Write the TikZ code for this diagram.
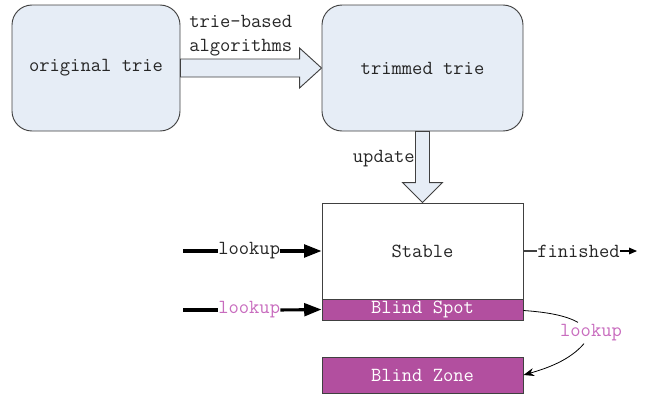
\documentclass[tikz,border=0pt]{standalone}
\usepackage{fontspec}
\usetikzlibrary{arrows.meta,calc}
\definecolor{boxblue}{HTML}{E6EDF6}
\definecolor{purp}{HTML}{B24F9F}
\definecolor{pinktxt}{HTML}{C86CBE}
\definecolor{edge}{HTML}{404040}
\tikzset{
  txt/.style={font=\ttfamily\fontsize{15pt}{17pt}\selectfont, inner sep=0pt, text=black!85},
  roundbox/.style={draw=edge, fill=boxblue, rounded corners=15pt, line width=0.7pt,
    minimum height=94.5pt, txt},
  plainbox/.style={draw=edge, fill=white, line width=0.7pt, minimum width=150.75pt, txt},
  purpbox/.style={draw=edge, fill=purp, line width=0.7pt, minimum width=150.75pt, txt, text=white},
  blockarrow/.style={draw=edge, fill=boxblue, line width=0.7pt, line join=miter},
  thickln/.style={line width=2.3pt, black},
  thickarr/.style={line width=2.3pt, black, -{Triangle[length=13pt,width=9.5pt]}},
}
\begin{document}
\begin{tikzpicture}[x=0.75pt,y=-0.75pt]
\useasboundingbox (0,0) rectangle (646,394);
% nodes
\node[roundbox, minimum width=126pt] (orig) at (96,68) {original trie};
\node[roundbox, minimum width=150.75pt] (trim) at (422.5,68) {trimmed trie};
\node[plainbox, minimum height=72pt] (stable) at (422.5,251) {Stable};
\node[purpbox, minimum height=15.75pt] (bspot) at (422.5,309.5) {Blind Spot};
\node[purpbox, minimum height=27pt] (bzone) at (422.5,375) {Blind Zone};
% labels
\node[txt, align=left, anchor=west] (alg) at (189,36) {trie-based\\[1pt]algorithms};
\node[txt, anchor=east] (upd) at (415,159) {update};
% horizontal block arrow
\draw[blockarrow] ($(orig.east)+(0,-9)$) -- ($(trim.west)+(-22,-9)$) -- ($(trim.west)+(-22,-20)$)
  -- (trim.west) -- ($(trim.west)+(-22,20)$) -- ($(trim.west)+(-22,9)$) -- ($(orig.east)+(0,9)$) -- cycle;
% vertical block arrow
\draw[blockarrow] ($(trim.south)+(-7,0)$) -- ($(stable.north)+(-7,-20)$) -- ($(stable.north)+(-20,-20)$)
  -- (stable.north) -- ($(stable.north)+(20,-20)$) -- ($(stable.north)+(7,-20)$) -- ($(trim.south)+(7,0)$) -- cycle;
% lookup 1
\coordinate (s1) at (183,251);
\node[txt, anchor=west] (lk1) at (218,251) {lookup};
\draw[thickln] (s1) -- (lk1.west);
\draw[thickarr] (lk1.east) -- (stable.west);
% lookup 2
\coordinate (s2) at (183,310);
\node[txt, anchor=west, text=pinktxt] (lk2) at (218,310) {lookup};
\draw[thickln] (s2) -- (lk2.west);
\draw[thickarr] (lk2.east) -- (bspot.west);
% finished
\node[txt, anchor=west] (fin) at (537,251) {finished};
\coordinate (fend) at (637,251);
\draw[edge, line width=0.8pt] (stable.east) -- (fin.west);
\draw[black, line width=0.8pt, -{Triangle[length=6pt,width=5pt]}] (fin.east) -- (fend);
% curved lookup
\node[txt, text=pinktxt] (lk3) at (591,333) {lookup};
\draw[black, line width=0.6pt] ($(bspot.east)+(0,1)$) .. controls (545,312) and (565,315) .. ($(lk3.north)+(-13,-2)$);
\draw[black, line width=0.6pt, -{Stealth[length=8pt,width=6pt]}] ($(lk3.south)+(-7,2)$) .. controls (570,360) and (548,368) .. (bzone.east);
\end{tikzpicture}
\end{document}
